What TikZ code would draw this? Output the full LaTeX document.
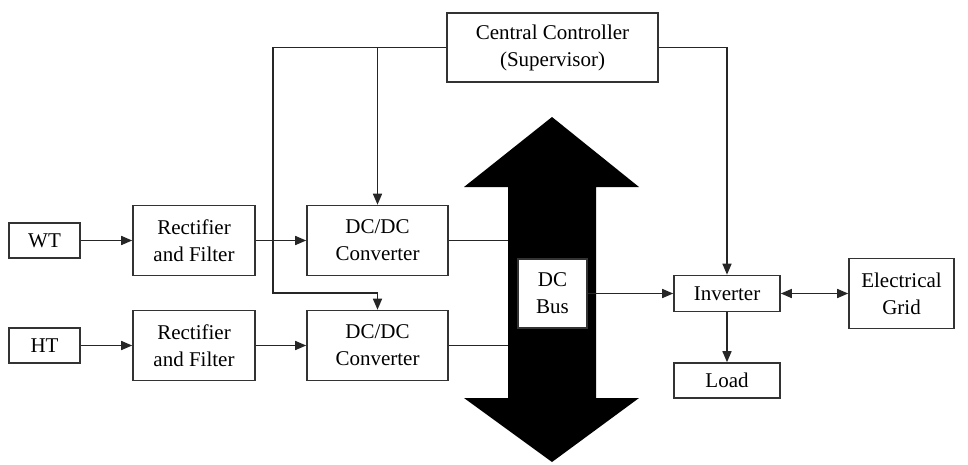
\documentclass[tikz,border=0pt]{standalone}
\usepackage{fontspec}
\newfontfamily\boxfont{Liberation Serif}
\usetikzlibrary{arrows.meta}
\begin{document}
\begin{tikzpicture}[x=1pt,y=-1pt,
  box/.style={draw=black!80,line width=1.6pt,fill=white,inner sep=0pt,align=center,
    font=\boxfont\fontsize{21}{27}\selectfont},
  arr/.style={draw=black!85,line width=1.5pt,-{Triangle[length=11pt,width=9pt]}}]
\useasboundingbox (0,0) rectangle (968,464);
% dc bus arrow
\fill[black] (552,117) -- (639,187) -- (596,187) -- (596,398) -- (639,398) -- (552,462)
  -- (464,398) -- (508,398) -- (508,187) -- (464,187) -- cycle;
\coordinate (shaftL) at (508,0);
% blocks
\node[box,minimum width=211,minimum height=69] (ctrl) at (552.5,47.5) {Central Controller\\(Supervisor)};
\node[box,minimum width=71,minimum height=35] (wt) at (44.5,240.5) {WT};
\node[box,minimum width=71,minimum height=35] (ht) at (44.5,345.5) {HT};
\node[box,minimum width=122,minimum height=70] (rect1) at (194,240.5) {Rectifier\\and Filter};
\node[box,minimum width=122,minimum height=70] (rect2) at (194,345.5) {Rectifier\\and Filter};
\node[box,minimum width=141,minimum height=70] (conv1) at (377.5,240.5) {DC/DC\\Converter};
\node[box,minimum width=141,minimum height=70] (conv2) at (377.5,345.5) {DC/DC\\Converter};
\node[box,minimum width=69,minimum height=69] (bus) at (552.5,293.5) {DC\\Bus};
\node[box,minimum width=106,minimum height=36] (inv) at (727,293.5) {Inverter};
\node[box,minimum width=105,minimum height=70] (grid) at (901.5,293.5) {Electrical\\Grid};
\node[box,minimum width=106,minimum height=35] (load) at (727,380.5) {Load};
% supervisor links
\coordinate (loop) at (273,293);
\draw[arr] (ctrl.west) -| (conv1.north);
\draw[arr] (ctrl.west) -| (loop) -| (conv2.north);
\draw[arr] (ctrl.east) -| (inv.north);
% power flow
\draw[arr] (wt) -- (rect1);
\draw[arr] (ht) -- (rect2);
\draw[arr] (rect1) -- (conv1);
\draw[arr] (rect2) -- (conv2);
\draw[draw=black!85,line width=1.5pt] (conv1.east) -- (conv1.east -| shaftL);
\draw[draw=black!85,line width=1.5pt] (conv2.east) -- (conv2.east -| shaftL);
\draw[arr] (bus) -- (inv);
\draw[arr,{Triangle[length=11pt,width=9pt]}-{Triangle[length=11pt,width=9pt]}] (inv) -- (grid);
\draw[arr] (inv) -- (load);
\end{tikzpicture}
\end{document}
